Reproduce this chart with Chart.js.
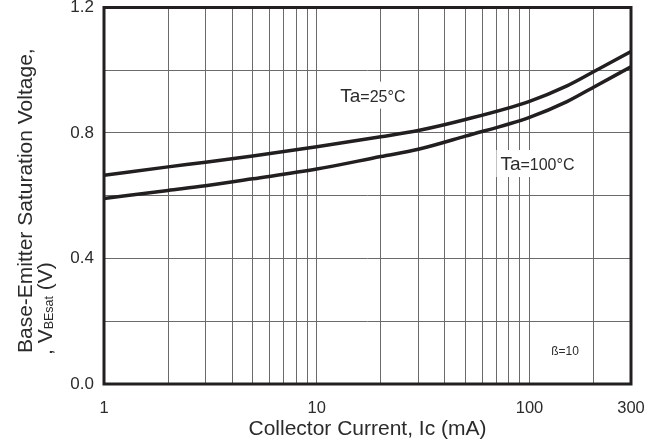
<!DOCTYPE html>
<html>
<head>
<meta charset="utf-8">
<script src="https://cdn.jsdelivr.net/npm/chart.js@4.4.1/dist/chart.umd.min.js"></script>
<style>
  html, body { margin: 0; padding: 0; background: #ffffff; }
  #wrap { width: 661px; height: 448px; position: relative; }
</style>
</head>
<body>
<div id="wrap"><canvas id="chart" width="661" height="448"></canvas></div>
<script>
// Collector current (mA) sample points along both curves
const currents = [1, 2, 3, 5, 10, 20, 30, 50, 100, 150, 200, 300];
// VBE(sat) in volts, Ta = 25 °C
const vbeTa25 = [0.665, 0.692, 0.707, 0.727, 0.756, 0.788, 0.808, 0.843, 0.901, 0.950, 0.995, 1.060];
// VBE(sat) in volts, Ta = 100 °C
const vbeTa100 = [0.591, 0.617, 0.632, 0.654, 0.685, 0.725, 0.748, 0.790, 0.850, 0.900, 0.946, 1.011];

// Axis ticks: log grid lines on x, 0.2 V grid on y
const xGridTicks = [1, 2, 3, 4, 5, 6, 7, 8, 9, 10, 20, 30, 40, 50, 60, 70, 80, 90, 100, 200, 300];
const xTickLabels = [1, 10, 100, 300];
const yGridTicks = [0.0, 0.2, 0.4, 0.6, 0.8, 1.0, 1.2];
const yTickLabels = [0.0, 0.4, 0.8, 1.2];

const INK = '#231f20';
const TEXT = '#2b2b2b';
const FONT = '"Liberation Sans", Arial, Helvetica, sans-serif';

const toPoints = (xs, ys) => xs.map((x, i) => ({ x: x, y: ys[i] }));

// Frame, curve labels and axis titles
const decorations = {
  id: 'decorations',
  afterDatasetsDraw(chart) {
    const { ctx, chartArea: a, scales: { x, y } } = chart;
    ctx.save();

    // heavy plot frame
    ctx.strokeStyle = INK;
    ctx.lineWidth = 3;
    ctx.strokeRect(a.left, a.top, a.right - a.left, a.bottom - a.top);

    // curve labels with white backing boxes
    const label = (xv, yv, big, small, bigSize, smallSize) => {
      const px = x.getPixelForValue(xv);
      const py = y.getPixelForValue(yv);
      ctx.font = bigSize + 'px ' + FONT;
      const w1 = ctx.measureText(big).width;
      ctx.font = smallSize + 'px ' + FONT;
      const w2 = ctx.measureText(small).width;
      ctx.fillStyle = '#ffffff';
      ctx.fillRect(px - 4, py - bigSize - 1, w1 + w2 + 8, bigSize + 8);
      ctx.fillStyle = TEXT;
      ctx.textAlign = 'left';
      ctx.textBaseline = 'alphabetic';
      ctx.font = bigSize + 'px ' + FONT;
      ctx.fillText(big, px, py);
      ctx.font = smallSize + 'px ' + FONT;
      ctx.fillText(small, px + w1, py);
    };
    label(12.9, 0.9, 'Ta', '=25°C', 19, 16);
    label(73, 0.682, 'Ta', '=100°C', 19, 16);

    ctx.fillStyle = TEXT;
    ctx.font = '12px ' + FONT;
    ctx.textAlign = 'center';
    ctx.textBaseline = 'middle';
    ctx.fillText('ß=10', x.getPixelForValue(147), y.getPixelForValue(0.104));

    // x axis title
    ctx.font = '21px ' + FONT;
    ctx.textAlign = 'center';
    ctx.textBaseline = 'alphabetic';
    ctx.fillText('Collector Current, Ic (mA)', (a.left + a.right) / 2, 435);

    // y axis title, two rotated lines
    ctx.save();
    ctx.translate(32, 353);
    ctx.rotate(-Math.PI / 2);
    ctx.textAlign = 'left';
    ctx.font = '21px ' + FONT;
    ctx.fillText('Base-Emitter Saturation Voltage,', 0, 0);
    ctx.translate(-2, 20);
    let cx = 0;
    ctx.font = '21px ' + FONT;
    ctx.fillText(', V', cx, 0);
    cx += ctx.measureText(', V').width;
    ctx.font = '12.5px ' + FONT;
    ctx.fillText('BEsat', cx, 1);
    cx += ctx.measureText('BEsat').width;
    ctx.font = '21px ' + FONT;
    ctx.fillText(' (V)', cx, 0);
    ctx.restore();

    ctx.restore();
  }
};

new Chart(document.getElementById('chart'), {
  type: 'line',
  data: {
    datasets: [
      {
        label: 'Ta=25°C',
        data: toPoints(currents, vbeTa25),
        borderColor: INK,
        borderWidth: 3.5,
        pointRadius: 0,
        cubicInterpolationMode: 'monotone',
        fill: false
      },
      {
        label: 'Ta=100°C',
        data: toPoints(currents, vbeTa100),
        borderColor: INK,
        borderWidth: 3.5,
        pointRadius: 0,
        cubicInterpolationMode: 'monotone',
        fill: false
      }
    ]
  },
  options: {
    responsive: false,
    animation: false,
    layout: { padding: { left: 0, right: 30, top: 7.5, bottom: 0 } },
    plugins: { legend: { display: false }, tooltip: { enabled: false } },
    scales: {
      x: {
        type: 'logarithmic',
        min: 1,
        max: 300,
        afterBuildTicks: (scale) => { scale.ticks = xGridTicks.map(v => ({ value: v })); },
        afterFit: (scale) => {
          scale.height = 64;
          scale.paddingLeft = 0;
          scale.paddingRight = 0;
        },
        grid: { color: '#6a6a6a', lineWidth: 1, drawTicks: false },
        border: { display: false },
        ticks: {
          autoSkip: false,
          maxRotation: 0,
          padding: 15,
          color: TEXT,
          font: { family: FONT, size: 16.5 },
          callback: (value) => (xTickLabels.includes(value) ? String(value) : '')
        }
      },
      y: {
        min: 0,
        max: 1.2,
        afterBuildTicks: (scale) => { scale.ticks = yGridTicks.map(v => ({ value: v })); },
        afterFit: (scale) => {
          scale.width = 104;
          scale.paddingTop = 0;
          scale.paddingBottom = 0;
        },
        grid: { color: '#6a6a6a', lineWidth: 1, drawTicks: false },
        border: { display: false },
        ticks: {
          padding: 10,
          color: TEXT,
          font: { family: FONT, size: 17 },
          callback: (value) => {
            const v = Math.round(value * 10) / 10;
            return yTickLabels.some(t => Math.abs(t - v) < 1e-6) ? v.toFixed(1) : '';
          }
        }
      }
    }
  },
  plugins: [decorations]
});
</script>
</body>
</html>
